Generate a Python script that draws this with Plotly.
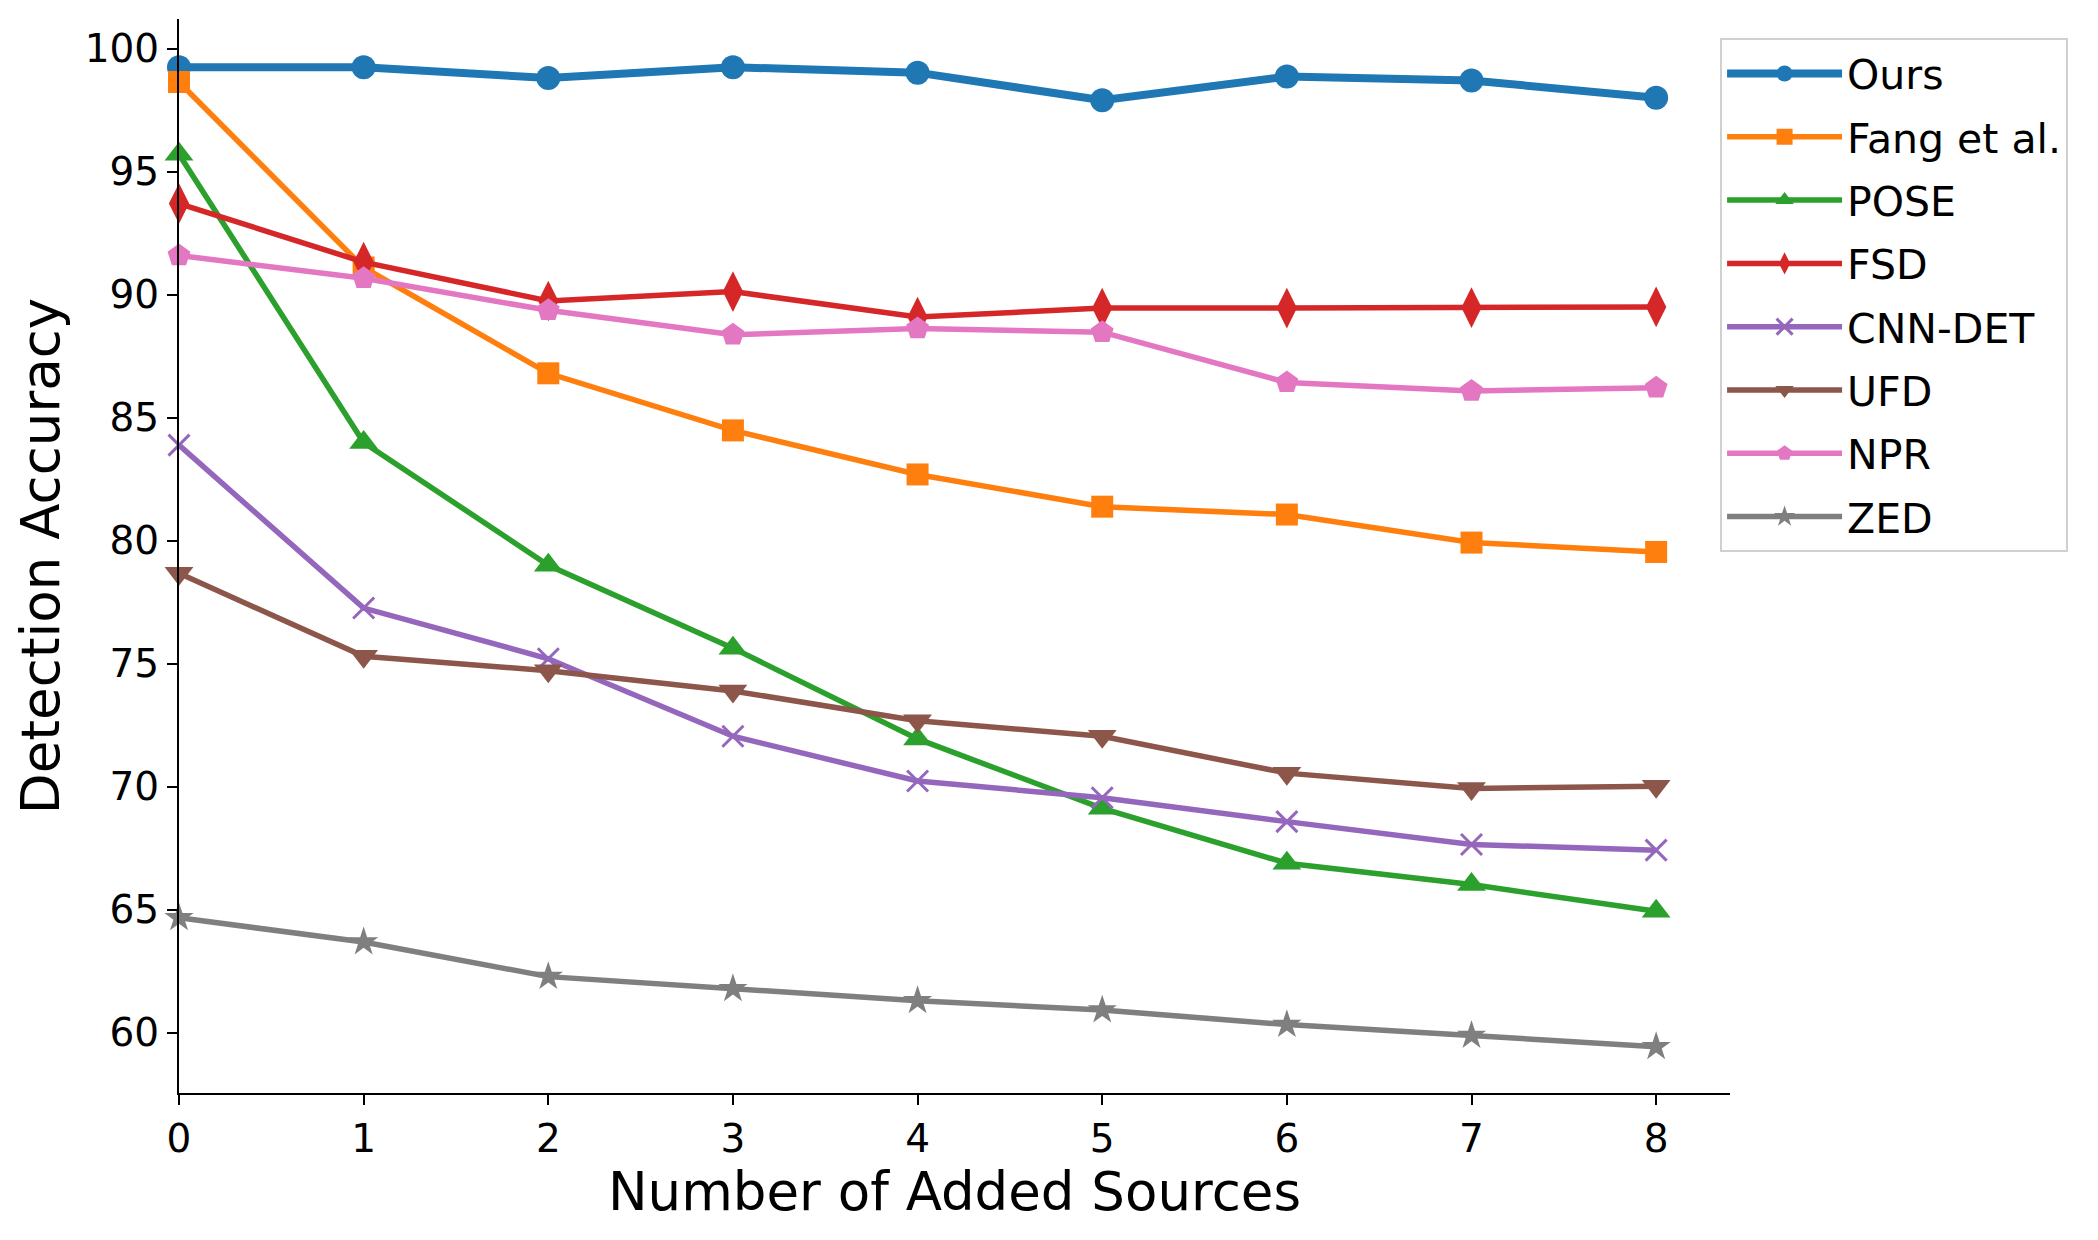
import plotly.graph_objects as go

sources = [0, 1, 2, 3, 4, 5, 6, 7, 8]
ours = [99.24, 99.24, 98.80, 99.24, 99.02, 97.90, 98.86, 98.70, 98.00]
fang = [98.64, 91.10, 86.80, 84.48, 82.69, 81.38, 81.06, 79.92, 79.54]
pose = [95.70, 83.99, 79.00, 75.63, 71.94, 69.12, 66.89, 66.02, 64.94]
fsd = [93.70, 91.32, 89.74, 90.12, 89.09, 89.45, 89.45, 89.47, 89.50]
cnndet = [83.88, 77.26, 75.20, 72.05, 70.23, 69.55, 68.58, 67.65, 67.42]
ufd = [78.67, 75.30, 74.71, 73.89, 72.68, 72.05, 70.55, 69.93, 70.02]
npr = [91.59, 90.66, 89.36, 88.37, 88.62, 88.47, 86.43, 86.08, 86.21]
zed = [64.67, 63.69, 62.28, 61.79, 61.30, 60.92, 60.33, 59.89, 59.43]

series = [
    ("Ours", ours, "#1f77b4", "circle", 8, 24),
    ("Fang et al.", fang, "#ff7f0e", "square", 5.5, 22),
    ("POSE", pose, "#2ca02c", "triangle-up", 5.5, 25),
    ("FSD", fsd, "#d62728", "diamond-tall", 5.5, 29),
    ("CNN-DET", cnndet, "#9467bd", "x-thin", 5.5, 21),
    ("UFD", ufd, "#8c564b", "triangle-down", 5.5, 25),
    ("NPR", npr, "#e377c2", "pentagon", 5.5, 24),
    ("ZED", zed, "#7f7f7f", "star", 5.5, 22),
]

fig = go.Figure()
for i, (name, vals, color, sym, lw, ms) in enumerate(series):
    marker = dict(symbol=sym, size=ms, color=color)
    if sym == "x-thin":
        marker["line"] = dict(width=3, color=color)
    else:
        marker["line"] = dict(width=0)
    fig.add_trace(go.Scatter(
        x=sources, y=vals, name=name, mode="lines+markers",
        line=dict(color=color, width=lw), marker=marker,
        legendgroup=f"g{i}", cliponaxis=False,
    ))

font = "DejaVu Sans"
fig.update_layout(
    width=2098, height=1240,
    margin=dict(l=171, r=376, t=11, b=155),
    paper_bgcolor="white", plot_bgcolor="white",
    font=dict(family=font, size=39, color="black"),
    showlegend=True,
    legend=dict(
        x=0.9936, y=0.982, xanchor="left", yanchor="top",
        bordercolor="#d0d0d0", borderwidth=2, bgcolor="white",
        font=dict(family=font, size=41, color="black"),
        traceorder="grouped", tracegroupgap=7,
        itemwidth=115,
    ),
    xaxis=dict(
        range=[0, 8.4], tickmode="array", tickvals=sources,
        ticktext=[str(s) for s in sources],
        showgrid=False, zeroline=False,
        showline=True, linecolor="black", linewidth=2,
        ticks="outside", ticklen=10, tickwidth=2, tickcolor="black",
        tickfont=dict(family=font, size=39, color="black"),
        title=dict(text="Number of Added Sources", font=dict(family=font, size=53, color="black"), standoff=12),
    ),
    yaxis=dict(
        range=[57.55, 101.2], tickmode="array", tickvals=[60, 65, 70, 75, 80, 85, 90, 95, 100],
        showgrid=False, zeroline=False,
        showline=True, linecolor="black", linewidth=2,
        ticks="outside", ticklen=10, tickwidth=2, tickcolor="black",
        tickfont=dict(family=font, size=39, color="black"),
        title=dict(text="Detection Accuracy", font=dict(family=font, size=53, color="black"), standoff=8),
    ),
)

fig.write_html("out.html")
